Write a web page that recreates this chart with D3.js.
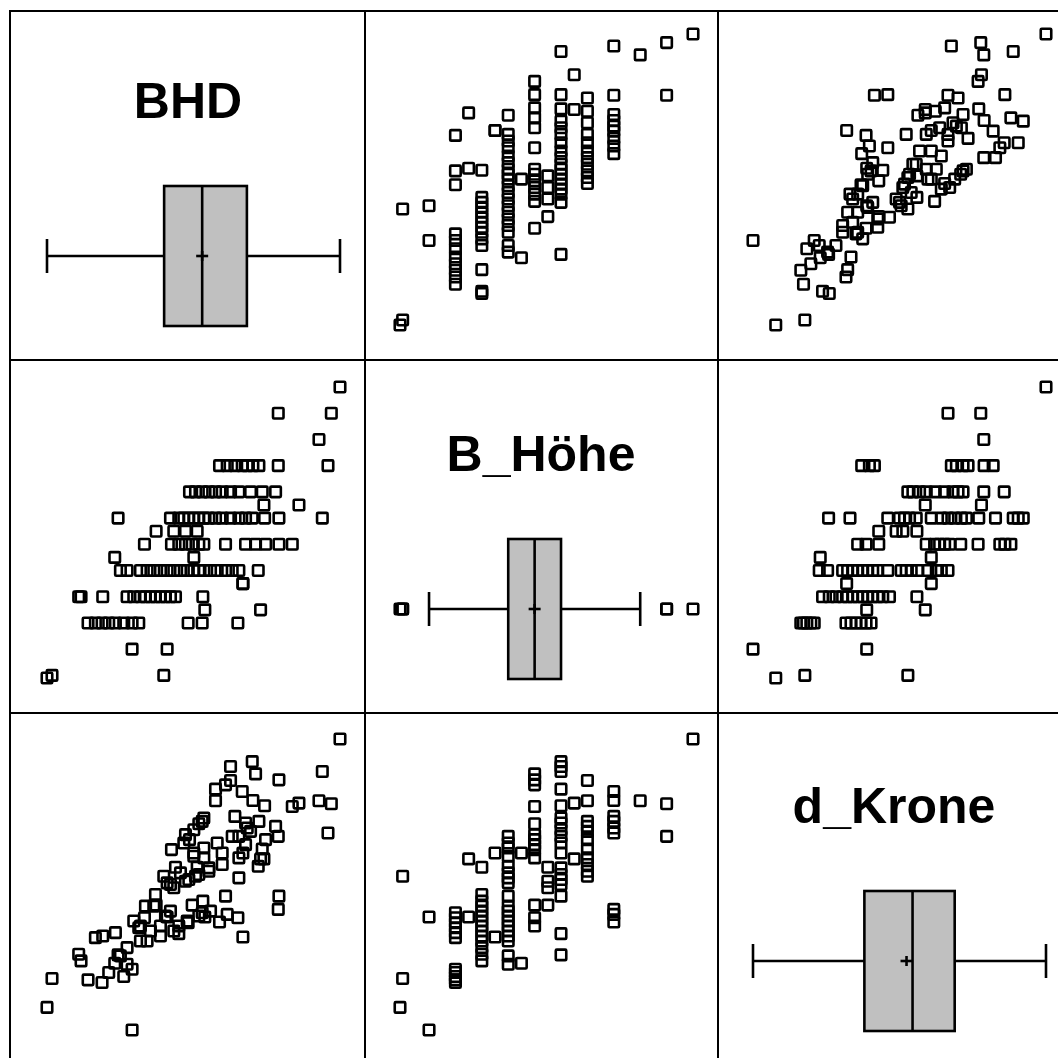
<!DOCTYPE html>
<html>
<head>
<meta charset="utf-8">
<script src="https://cdn.jsdelivr.net/npm/d3@7"></script>
<style>
  body { margin: 0; background: #fff; }
</style>
</head>
<body>
<div class="bg"></div>
<script>
const varNames = ["BHD", "B_Höhe", "d_Krone"];

// one entry per tree, grouped by height level (top rows first)
const bhd = [
  49.15,
  47.85, 39.9,
  46.0,
  31.1, 32.25, 39.9, 33.4, 34.5, 35.25, 36.1, 37.0, 47.35,
  26.6, 27.5, 28.5, 29.5, 30.5, 31.5, 32.75, 34.0, 35.75, 37.5, 39.5,
  37.75, 43.0,
  15.9, 23.75, 25.0, 25.75, 26.5, 27.25, 28.0, 28.75, 29.5, 30.5, 31.5, 32.75, 34.0, 35.0, 36.0, 37.85, 40.0, 46.5,
  21.6, 24.25, 26.0, 27.75,
  19.85, 23.9, 25.0, 26.0, 27.0, 28.0, 28.75, 32.0, 35.0, 36.5, 38.0, 40.0, 42.0,
  15.4, 27.25,
  16.25, 17.25, 19.25, 20.25, 21.25, 22.25, 23.25, 24.25, 25.25, 26.25, 27.25, 28.0, 28.75, 29.75, 30.75, 32.0, 33.0, 34.0, 36.9,
  34.6, 34.6,
  10.0, 10.35, 13.6, 17.25, 18.25, 19.25, 20.0, 20.75, 21.5, 22.25, 23.0, 23.75, 24.5, 28.6,
  28.9, 37.25,
  11.4, 12.5, 13.5, 14.5, 15.5, 16.75, 18.0, 19.0, 26.4, 28.5, 33.85,
  18.0, 23.25,
  6.0, 22.75,
  5.25
];

const hoehe = [
  26,
  25, 25,
  24,
  23, 23, 23, 23, 23, 23, 23, 23, 23,
  22, 22, 22, 22, 22, 22, 22, 22, 22, 22, 22,
  21.5, 21.5,
  21, 21, 21, 21, 21, 21, 21, 21, 21, 21, 21, 21, 21, 21, 21, 21, 21, 21,
  20.5, 20.5, 20.5, 20.5,
  20, 20, 20, 20, 20, 20, 20, 20, 20, 20, 20, 20, 20,
  19.5, 19.5,
  19, 19, 19, 19, 19, 19, 19, 19, 19, 19, 19, 19, 19, 19, 19, 19, 19, 19, 19,
  18.5, 18.5,
  18, 18, 18, 18, 18, 18, 18, 18, 18, 18, 18, 18, 18, 18,
  17.5, 17.5,
  17, 17, 17, 17, 17, 17, 17, 17, 17, 17, 17,
  16, 16,
  15, 15,
  14.9
];

const krone = [
  9.83,
  7.88, 6.9,
  7.97,
  4.32, 4.55, 4.7, 7.5, 8.25, 7.15, 7.98, 7.35, 7.0,
  6.8, 5.7, 7.35, 5.85, 7.97, 6.05, 8.58, 6.25, 7.05, 6.52, 7.2,
  6.22, 7.9,
  3.33, 5.45, 3.97, 6.7, 5.6, 7.1, 5.75, 7.45, 5.95, 8.32, 6.4, 9.0, 6.9, 7.3, 9.15, 7.82, 5.1, 8.85,
  4.83, 5.35, 5.55, 5.97,
  4.45, 6.5, 4.2, 6.95, 4.83, 7.28, 6.25, 8.45, 6.65, 8.78, 6.8, 8.6, 7.8,
  3.08, 6.4,
  3.3, 3.05, 4.2, 3.75, 4.8, 3.9, 5.5, 4.05, 5.8, 4.35, 6.3, 4.5, 6.55, 4.65, 6.7, 5.1, 6.9, 5.65, 6.0,
  3.87, 6.4,
  3.35, 3.15, 3.9, 3.55, 4.35, 3.75, 4.8, 4.05, 5.15, 4.2, 4.5, 4.65, 5.97, 4.95,
  4.47, 6.22,
  2.58, 3.85, 2.5, 2.8, 4.0, 2.68, 2.9, 4.15, 4.3, 4.6, 4.45,
  1.07, 4.47,
  2.62, 5.7,
  1.75
];

// box plot statistics per variable (whisker ends, quartiles, median, mean)
const boxLow  = [5.25, 16, 1.07];
const boxQ1   = [22.8, 19, 4.4];
const boxMed  = [28.5, 20, 5.84];
const boxQ3   = [35.2, 21, 7.1];
const boxHigh = [49.15, 24, 9.83];
const boxMean = [28.5, 20, 5.66];

const columns = [bhd, hoehe, krone];

const W = 1058, H = 1058;
const colLeft = [12, 365, 718];
const rowTop = [12, 365, 717];

const svg = d3.select(".bg").append("svg")
  .attr("width", W)
  .attr("height", H)
  .style("display", "block");

// scales for every column / row of the matrix
const xScales = columns.map((vals, c) => d3.scaleLinear()
  .domain(d3.extent(vals))
  .range([colLeft[c] + 35, colLeft[c] + 328]));
const yScales = columns.map((vals, r) => d3.scaleLinear()
  .domain(d3.extent(vals))
  .range([rowTop[r] + 313, rowTop[r] + 22]));

const pts = bhd.map((d, i) => [bhd[i], hoehe[i], krone[i]]);
const sq = 10.5;

// off-diagonal scatter plots
for (let r = 0; r < 3; r++) {
  for (let c = 0; c < 3; c++) {
    if (r === c) continue;
    svg.append("g")
      .selectAll("rect")
      .data(pts)
      .join("rect")
      .attr("x", d => xScales[c](d[c]) - sq / 2)
      .attr("y", d => yScales[r](d[r]) - sq / 2)
      .attr("width", sq)
      .attr("height", sq)
      .attr("rx", 1)
      .attr("fill", "none")
      .attr("stroke", "#000")
      .attr("stroke-width", 2.6);
  }
}

// diagonal: variable name + box plot
for (let k = 0; k < 3; k++) {
  const x = xScales[k];
  const top = rowTop[k];
  const yMid = top + 244;
  const g = svg.append("g");

  g.append("text")
    .attr("x", colLeft[k] + 176)
    .attr("y", top + 106)
    .attr("text-anchor", "middle")
    .attr("font-family", "'Liberation Sans', Arial, sans-serif")
    .attr("font-weight", "bold")
    .attr("font-size", 50)
    .text(varNames[k]);

  // whiskers
  g.append("line")
    .attr("x1", x(boxLow[k])).attr("x2", x(boxQ1[k]))
    .attr("y1", yMid).attr("y2", yMid);
  g.append("line")
    .attr("x1", x(boxQ3[k])).attr("x2", x(boxHigh[k]))
    .attr("y1", yMid).attr("y2", yMid);
  [boxLow[k], boxHigh[k]].forEach(v => {
    g.append("line")
      .attr("x1", x(v)).attr("x2", x(v))
      .attr("y1", yMid - 17).attr("y2", yMid + 17);
  });

  // box
  g.append("rect")
    .attr("x", x(boxQ1[k]))
    .attr("y", top + 174)
    .attr("width", x(boxQ3[k]) - x(boxQ1[k]))
    .attr("height", 140)
    .attr("fill", "#c0c0c0");
  g.append("line")
    .attr("x1", x(boxMed[k])).attr("x2", x(boxMed[k]))
    .attr("y1", top + 174).attr("y2", top + 314);

  // mean marker
  g.append("line")
    .attr("x1", x(boxMean[k]) - 6).attr("x2", x(boxMean[k]) + 6)
    .attr("y1", yMid).attr("y2", yMid);
  g.append("line")
    .attr("x1", x(boxMean[k])).attr("x2", x(boxMean[k]))
    .attr("y1", yMid - 5).attr("y2", yMid + 5);

  g.selectAll("line")
    .attr("stroke", "#000")
    .attr("stroke-width", 2.6);
  g.select("rect")
    .attr("stroke", "#000")
    .attr("stroke-width", 2.6);

  // outliers beyond the whiskers
  const out = columns[k].filter(v => v < boxLow[k] || v > boxHigh[k]);
  g.selectAll(".out")
    .data(out)
    .join("rect")
    .attr("class", "out")
    .attr("x", v => x(v) - sq / 2)
    .attr("y", yMid - sq / 2)
    .attr("width", sq)
    .attr("height", sq)
    .attr("rx", 1)
    .attr("fill", "none")
    .attr("stroke", "#000")
    .attr("stroke-width", 2.6);
}

// matrix frame and cell dividers
const frame = svg.append("g")
  .attr("stroke", "#000")
  .attr("stroke-width", 2);
frame.append("line").attr("x1", 10).attr("x2", 10).attr("y1", 10).attr("y2", H);
frame.append("line").attr("x1", 9).attr("x2", W).attr("y1", 11).attr("y2", 11);
[365, 718].forEach(v => {
  frame.append("line").attr("x1", v).attr("x2", v).attr("y1", 11).attr("y2", H);
});
[360, 713].forEach(v => {
  frame.append("line").attr("x1", 10).attr("x2", W).attr("y1", v).attr("y2", v);
});
</script>
</body>
</html>
